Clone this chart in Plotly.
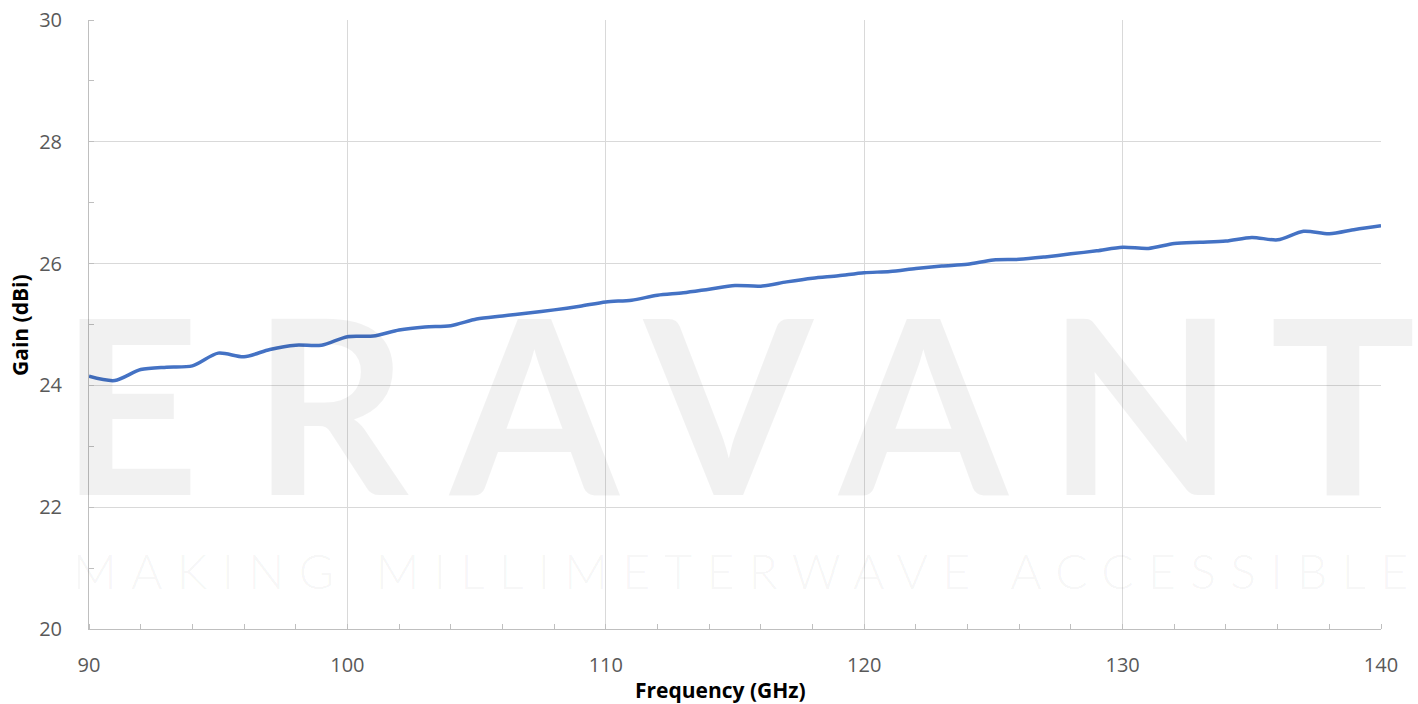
import plotly.graph_objects as go

# ---- data ----
freq_ghz = list(range(90, 141))
gain_dbi = [24.15, 24.08, 24.26, 24.30, 24.32, 24.53, 24.47, 24.59, 24.66, 24.66,
            24.80, 24.81, 24.91, 24.96, 24.98, 25.09, 25.14, 25.19, 25.24, 25.30,
            25.37, 25.40, 25.48, 25.52, 25.58, 25.64, 25.63, 25.70, 25.76, 25.80,
            25.85, 25.87, 25.92, 25.96, 25.99, 26.06, 26.07, 26.11, 26.16, 26.21,
            26.27, 26.25, 26.33, 26.35, 26.37, 26.43, 26.39, 26.53, 26.49, 26.56,
            26.62]
x_ticks = [90, 100, 110, 120, 130, 140]
y_ticks = [20, 22, 24, 26, 28, 30]

W, H = 1418, 704
L, R, T, B = 89, 37, 20, 75
PW, PH = W - L - R, H - T - B

def px(xp):
    return (xp - L) / PW

def py(yp):
    return 1 - (yp - T) / PH

fig = go.Figure()
fig.add_trace(go.Scatter(
    x=freq_ghz, y=gain_dbi, mode="lines",
    line=dict(color="#4472C4", width=3.5, shape="spline", smoothing=0.8),
    showlegend=False, hoverinfo="x+y"))

axis_common = dict(
    showline=True, linecolor="#bfbfbf", linewidth=1,
    showgrid=True, gridcolor="#d9d9d9", gridwidth=1,
    zeroline=False, automargin=False,
    tickfont=dict(family="Open Sans", size=20, color="#595959"),
    ticks="",
)

fig.update_xaxes(range=[90, 140], tickvals=x_ticks, ticklabelstandoff=18,
                 minor=dict(dtick=2, tick0=90, ticks="inside", ticklen=5,
                            tickcolor="#bfbfbf", showgrid=False),
                 **axis_common)
fig.update_yaxes(range=[20, 30], tickvals=y_ticks, ticklabelstandoff=22,
                 minor=dict(dtick=1, tick0=20, ticks="inside", ticklen=5,
                            tickcolor="#bfbfbf", showgrid=False),
                 **axis_common)

annotations = []
# watermark: big letters
wm_color = "rgba(0,0,0,0.055)"
big_letters = ["E", "R", "A", "V", "A", "N", "T"]
big_centers = [130, 330, 534, 728, 923, 1140, 1343]
for ch, cx in zip(big_letters, big_centers):
    annotations.append(dict(text=ch, x=px(cx), y=py(497), xref="paper", yref="paper",
                            xanchor="center", yanchor="bottom", showarrow=False,
                            yshift=-52,
                            font=dict(family="Lato", size=243, weight=700, color=wm_color)))
# tagline
annotations.append(dict(
    text='<span style="letter-spacing:14.3px">MAKING MILLIMETERWAVE ACCESSIBLE</span>',
    x=px(747), y=py(570), xref="paper", yref="paper", xanchor="center", yanchor="middle",
    showarrow=False, font=dict(family="Lato", size=48, weight=300, color="rgba(0,0,0,0.05)")))
# axis titles
annotations.append(dict(text="<b>Frequency (GHz)</b>", x=px(720), y=py(690),
                        xref="paper", yref="paper", xanchor="center", yanchor="middle",
                        showarrow=False, font=dict(family="Open Sans", size=21, color="#000000")))
annotations.append(dict(text="<b>Gain (dBi)</b>", x=px(20), y=py(325), textangle=-90,
                        xref="paper", yref="paper", xanchor="center", yanchor="middle",
                        showarrow=False, font=dict(family="Open Sans", size=21, color="#000000")))

fig.update_layout(
    width=W, height=H,
    margin=dict(l=L, r=R, t=T, b=B, autoexpand=False),
    paper_bgcolor="white", plot_bgcolor="white",
    annotations=annotations,
)

fig.write_html("out.html", config={"displayModeBar": False},
               post_script="document.body.style.margin='0';document.body.style.overflow='hidden';")
